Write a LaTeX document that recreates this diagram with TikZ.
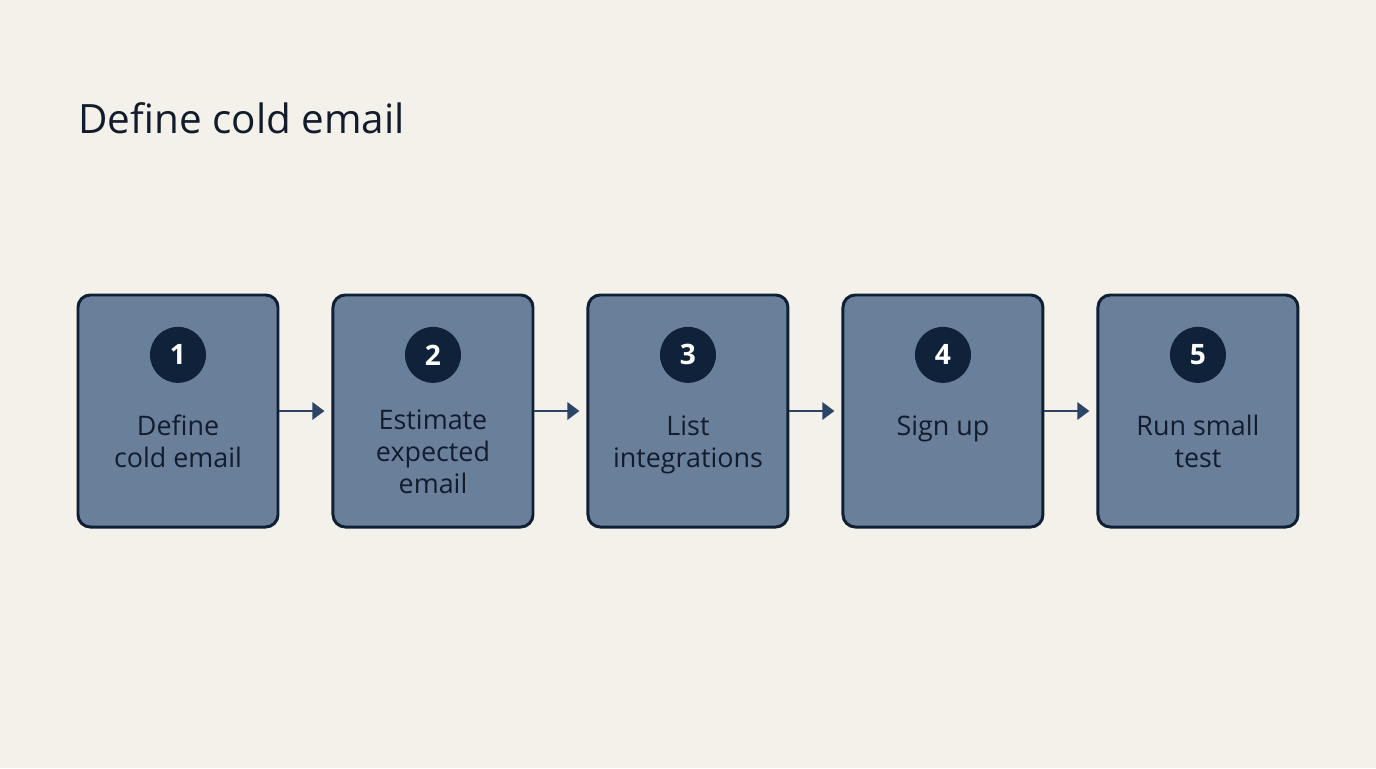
\documentclass[tikz,border=0pt]{standalone}
\usepackage{fontspec}
\setmainfont{Open Sans}
\usepackage{tikz}
\usetikzlibrary{arrows.meta, positioning, calc}
\definecolor{pagebg}{RGB}{243,241,234}
\definecolor{stepfill}{RGB}{106,127,154}
\definecolor{stepline}{RGB}{16,32,52}
\definecolor{dotfill}{RGB}{16,34,58}
\definecolor{inktext}{RGB}{18,28,44}
\definecolor{flowblue}{RGB}{44,68,102}
\tikzset{
  %% ---- boxes ----
  stepbox/.style = {rectangle, rounded corners=7pt,
                   draw=stepline, line width=1.7pt,
                   fill=stepfill, minimum width=4cm,
                   minimum height=4.64cm, inner sep=0pt},
  numdot/.style  = {circle, fill=dotfill, minimum size=1.12cm,
                   inner sep=0pt, text=white,
                   font=\fontsize{16}{18}\selectfont\bfseries},
  steptext/.style= {align=center, text=inktext,
                   font=\fontsize{15.3}{18.2}\selectfont},
  %% ---- arrows ----
  flow/.style    = {-{Triangle[length=0.24cm, width=0.34cm]},
                   line width=1.6pt, color=flowblue, shorten >=0.14cm},
}
\begin{document}
\begin{tikzpicture}

  \fill[pagebg] (0,0) rectangle (27.52,-15.36);

  %% Title
  \node[anchor=base west, inner sep=0pt, text=inktext,
    font=\fontsize{23}{26}\selectfont] (title) at (1.56,-2.66)
    {Define cold email};

  %% Step boxes
  \node[stepbox] (b1) at (3.56,-8.22) {};
  \node[stepbox, right=1.04cm of b1] (b2) {};
  \node[stepbox, right=1.04cm of b2] (b3) {};
  \node[stepbox, right=1.04cm of b3] (b4) {};
  \node[stepbox, right=1.04cm of b4] (b5) {};

  %% Numbers
  \node[numdot, below=0.66cm of b1.north] (n1) {1};
  \node[numdot, below=0.66cm of b2.north] (n2) {2};
  \node[numdot, below=0.66cm of b3.north] (n3) {3};
  \node[numdot, below=0.66cm of b4.north] (n4) {4};
  \node[numdot, below=0.66cm of b5.north] (n5) {5};

  %% Labels
  \node[steptext] (t1) at ($(b1.center)+(0,-0.6)$) {Define\\cold email};
  \node[steptext] (t2) at ($(b2.center)+(0,-0.82)$)
    {Estimate\\expected\\email};
  \node[steptext] (t3) at ($(b3.center)+(0,-0.68)$) {List\\integrations};
  \node[steptext] (t4) at ($(b4.center)+(0,-0.36)$) {Sign up};
  \node[steptext] (t5) at ($(b5.center)+(0,-0.6)$) {Run small\\test};

  %% Arrows
  \draw[flow] (b1.east) -- (b2.west);
  \draw[flow] (b2.east) -- (b3.west);
  \draw[flow] (b3.east) -- (b4.west);
  \draw[flow] (b4.east) -- (b5.west);

\end{tikzpicture}
\end{document}
